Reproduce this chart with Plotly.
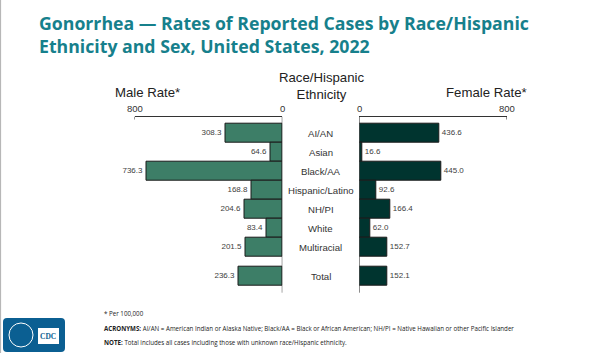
import plotly.graph_objects as go

categories = ["AI/AN", "Asian", "Black/AA", "Hispanic/Latino", "NH/PI", "White", "Multiracial", "Total"]
positions = [0, 1, 2, 3, 4, 5, 6, 7.5]
male_rate = [308.3, 64.6, 736.3, 168.8, 204.6, 83.4, 201.5, 236.3]
female_rate = [436.6, 16.6, 445.0, 92.6, 166.4, 62.0, 152.7, 152.1]
axis_ticks = [0, 800]

MALE = "#3d7e67"
FEMALE = "#00342f"
TITLE = "#16808c"
FONT = "Liberation Sans, Arial, sans-serif"

H = 353.0
def py(px):
    return 1 - px / H

fig = go.Figure()
fig.add_trace(go.Bar(
    x=male_rate, y=positions, orientation="h", width=1,
    marker=dict(color=MALE, line=dict(color="#1a1a1a", width=1)),
    text=[f"{v:.1f}" for v in male_rate], textposition="outside",
    textfont=dict(size=8, color="#404040", family=FONT),
    xaxis="x", yaxis="y", cliponaxis=False, showlegend=False,
))
fig.add_trace(go.Bar(
    x=female_rate, y=positions, orientation="h", width=1,
    marker=dict(color=FEMALE, line=dict(color="#1a1a1a", width=1)),
    text=[f"{v:.1f}" for v in female_rate], textposition="outside",
    textfont=dict(size=8, color="#404040", family=FONT),
    xaxis="x2", yaxis="y2", cliponaxis=False, showlegend=False,
))

yr = [8.37, -0.87]
axcommon = dict(side="top", showgrid=False, zeroline=False, showline=True,
                linecolor="#333333", linewidth=1, showticklabels=False, ticks="",
                fixedrange=True, automargin=False)
ydom = [py(292.7), py(116.7)]
fig.update_layout(
    width=600, height=353, margin=dict(l=0, r=0, t=0, b=0, autoexpand=False),
    paper_bgcolor="white", plot_bgcolor="white",
    xaxis=dict(domain=[134.5/600, 282.3/600], range=[800, 0], anchor="y", **axcommon),
    xaxis2=dict(domain=[359.3/600, 506.7/600], range=[0, 800], anchor="y2", **axcommon),
    yaxis=dict(domain=ydom, range=yr, showticklabels=False, automargin=False,
               showgrid=False, zeroline=False, showline=False, anchor="x"),
    yaxis2=dict(domain=ydom, range=yr, showticklabels=False, automargin=False,
                showgrid=False, zeroline=False, showline=False, anchor="x2"),
    bargap=0,
    font=dict(family=FONT),
)

# tick labels for the two top axes
for xr in ("x", "x2"):
    for t in axis_ticks:
        fig.add_annotation(x=t, xref=xr, y=py(108.5), yref="paper", text=str(t),
                           showarrow=False, xanchor="center", yanchor="middle",
                           font=dict(size=9.5, color="#333333", family=FONT))

# vertical axis lines at zero
for xr, yr_ in (("x", "y"), ("x2", "y2")):
    fig.add_shape(type="line", xref=xr, yref=f"{yr_} domain", x0=0, x1=0, y0=0, y1=1,
                  line=dict(color="#333333", width=1))
# small downward ticks at 800 ends
for xr in ("x", "x2"):
    fig.add_shape(type="line", xref=xr, yref="paper", x0=800, x1=800,
                  y0=py(116.7), y1=py(119.5), line=dict(color="#333333", width=1))

# category labels in centre
for c, p in zip(categories, positions):
    fig.add_annotation(x=320.8/600, xref="paper", y=p, yref="y", text=c, showarrow=False,
                       font=dict(size=9.6, color="#333333", family=FONT),
                       xanchor="center", yanchor="middle")

# headers
hfont = dict(size=13.2, color="#222222", family=FONT)
fig.add_annotation(x=147/600, y=py(92.5), xref="paper", yref="paper", text="Male Rate*",
                   showarrow=False, xanchor="center", yanchor="middle", font=hfont)
fig.add_annotation(x=321/600, y=py(85.5), xref="paper", yref="paper",
                   text="Race/Hispanic<br>Ethnicity", showarrow=False,
                   xanchor="center", yanchor="middle", font=hfont)
fig.add_annotation(x=486/600, y=py(92.5), xref="paper", yref="paper", text="Female Rate*",
                   showarrow=False, xanchor="center", yanchor="middle", font=hfont)

# title
fig.add_annotation(x=37/600, y=py(9), xref="paper", yref="paper", xanchor="left", yanchor="top",
                   align="left", showarrow=False,
                   text="<b>Gonorrhea — Rates of Reported Cases by Race/Hispanic<br>Ethnicity and Sex, United States, 2022</b>",
                   font=dict(size=17.7, color=TITLE, family="Open Sans, sans-serif"))

# footnotes
foot = dict(xref="paper", yref="paper", xanchor="left", yanchor="middle", showarrow=False,
            font=dict(size=6.2, color="#222222", family="Open Sans, sans-serif"))
fig.add_annotation(x=102/600, y=py(313), text="* Per 100,000", **foot)
fig.add_annotation(x=102/600, y=py(328),
                   text="<b>ACRONYMS:</b> AI/AN = American Indian or Alaska Native; Black/AA = Black or African American; NH/PI = Native Hawaiian or other Pacific Islander", **foot)
fig.add_annotation(x=102/600, y=py(342),
                   text="<b>NOTE:</b> Total includes all cases including those with unknown race/Hispanic ethnicity.", **foot)

# slide border and CDC logo
fig.add_shape(type="line", xref="paper", yref="paper", x0=0.6/600, x1=0.6/600, y0=0, y1=1,
              line=dict(color="#b0b0b0", width=1))
x0, x1, y0, y1 = 3/600, 65/600, py(352), py(318)
rx, ry = 4/600, 4/H
fig.add_shape(type="path", xref="paper", yref="paper",
              path=(f"M {x0+rx},{y0} L {x1-rx},{y0} Q {x1},{y0} {x1},{y0+ry} "
                    f"L {x1},{y1-ry} Q {x1},{y1} {x1-rx},{y1} L {x0+rx},{y1} "
                    f"Q {x0},{y1} {x0},{y1-ry} L {x0},{y0+ry} Q {x0},{y0} {x0+rx},{y0} Z"),
              fillcolor="#0b5f92", line=dict(width=0))
fig.add_shape(type="circle", xref="paper", yref="paper", x0=9/600, x1=33/600,
              y0=py(347), y1=py(323), fillcolor="rgba(0,0,0,0)",
              line=dict(color="white", width=1))
fig.add_shape(type="rect", xref="paper", yref="paper", x0=38/600, x1=59/600,
              y0=py(344), y1=py(328), fillcolor="white", line=dict(width=0))
fig.add_annotation(x=48.5/600, y=py(336), xref="paper", yref="paper", text="<b>CDC</b>",
                   showarrow=False, xanchor="center", yanchor="middle",
                   font=dict(size=7.5, color="#0b5f92", family="Liberation Serif, serif"))

fig.write_html("out.html")
